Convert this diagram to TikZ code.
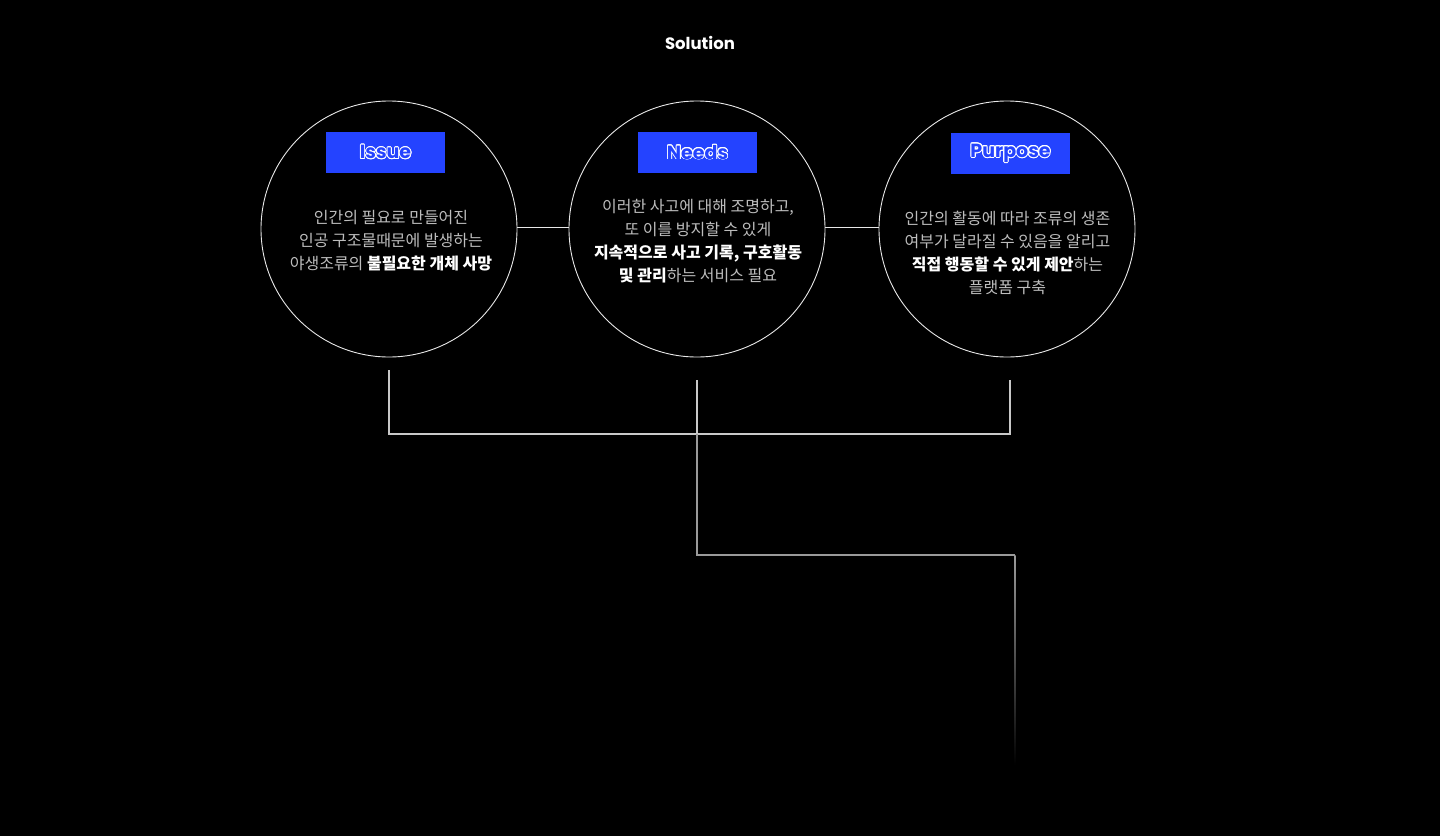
\documentclass[tikz,border=0pt]{standalone}
\usepackage{fontspec}
\setmainfont{Noto Sans CJK KR}
\newfontfamily\titlefont{Poppins}
\usepackage[copies]{contour}
\contourlength{0.9pt}
\usetikzlibrary{positioning,calc}
\definecolor{tagblue}{HTML}{2443FF}
\definecolor{bodygray}{HTML}{BDBDBD}
\definecolor{linegray}{HTML}{C8C8C8}
\definecolor{dimgray}{HTML}{9A9A9A}
\definecolor{ringwhite}{HTML}{E8E8E8}

\begin{document}
\begin{tikzpicture}[x=1pt, y=-1pt, node distance=308pt, circ/.style={circle, draw=ringwhite, line width=0.9pt, minimum size=256pt, inner sep=0pt}, tag/.style={rectangle, fill=tagblue, minimum width=119pt, minimum height=41pt, inner sep=0pt, font=\titlefont\bfseries\fontsize{19}{19}\selectfont}, body/.style={align=center, anchor=north, inner sep=0pt, text=bodygray, font=\fontsize{16}{23}\selectfont}, link/.style={draw=linegray, line width=1.3pt}]
    \useasboundingbox[fill=black] (0,0) rectangle (1440,836);

    \node[text=white, font=\titlefont\bfseries\fontsize{16.5}{16.5}\selectfont] (title) at (700,43) {Solution};

    \node[circ] (issue) at (389,229) {};
    \node[circ, right of=issue] (needs) {};
    \node[circ, right of=needs, node distance=310pt] (purpose) {};

    \node[tag] (issuetag) at (385.5,152.5) {\contour{white}{\textcolor{tagblue}{Issue}}};
    \node[tag] (needstag) at (697.5,152.5) {\contour{white}{\textcolor{tagblue}{Needs}}};
    \node[tag] (purposetag) at (1010.5,153.5) {\contour{white}{\textcolor{tagblue}{Purpose}}};

    \node[body] (issuetext) at (391,210.5) {인간의 필요로 만들어진\\인공 구조물때문에 발생하는\\야생조류의 \textcolor{white}{\bfseries 불필요한 개체 사망}};
    \node[body] (needstext) at (698,199.5) {이러한 사고에 대해 조명하고,\\또 이를 방지할 수 있게\\\textcolor{white}{\bfseries 지속적으로 사고 기록, 구호활동}\\\textcolor{white}{\bfseries 및 관리}하는 서비스 필요};
    \node[body] (purposetext) at (1007.5,210.5) {인간의 활동에 따라 조류의 생존\\여부가 달라질 수 있음을 알리고\\\textcolor{white}{\bfseries 직접 행동할 수 있게 제안}하는\\플랫폼 구축};

    \draw[draw=ringwhite, line width=0.8pt] ($(issue.east)+(0,-2)$) -- ($(needs.west)+(0,-2)$);
    \draw[draw=ringwhite, line width=0.8pt] ($(needs.east)+(0,-2)$) -- ($(purpose.west)+(0,-2)$);

    \coordinate (b1) at (389,370);
    \coordinate (b2) at (697,380);
    \coordinate (b3) at (1010,380);
    \coordinate (hub) at (697,434);
    \coordinate (turn) at (697,555);
    \coordinate (bend) at (1015,555);
    \coordinate (tail) at (1015,765);

    \draw[link] (b1) -- ++(0,64) -| (b3);
    \draw[link] (b2) -- (hub);
    \draw[draw=dimgray, line width=1.3pt] (hub) -- (turn) -- (bend);
    % fading tail
    \shade[top color=dimgray, bottom color=black] ($(bend)+(-0.65,0)$) rectangle ($(tail)+(0.65,0)$);
\end{tikzpicture}
\end{document}
